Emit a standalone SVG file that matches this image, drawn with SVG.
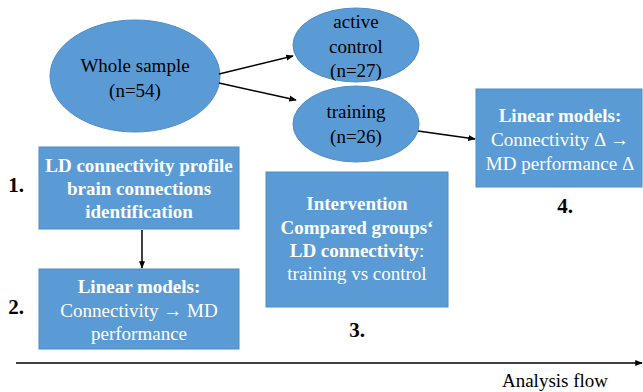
<svg xmlns="http://www.w3.org/2000/svg" width="643" height="392" viewBox="0 0 643 392">
<style>
.n{fill:#5b9bd5;stroke:#4f8ccb;stroke-width:1}
.t{font-family:"Liberation Serif","Times New Roman",serif;font-size:19px;text-anchor:middle}
.k{fill:#000}
.w{fill:#fff}
.b{font-weight:bold}
.c{stroke:#000;stroke-width:1.5;fill:none;marker-end:url(#ah)}
.num{font-family:"Liberation Serif","Times New Roman",serif;font-size:21px;font-weight:bold;fill:#000;text-anchor:middle}
</style>
<defs>
<marker id="ah" viewBox="0 0 10 10" refX="9" refY="5" markerWidth="5" markerHeight="5" orient="auto">
<path d="M0,1 L10,5 L0,9 z" fill="#000"/>
</marker>
</defs>
<g id="whole">
<ellipse class="n" cx="135" cy="76" rx="85" ry="56"/>
<text class="t k" x="135" y="72">Whole sample</text>
<text class="t k" x="135" y="97">(n=54)</text>
</g>
<g id="active">
<ellipse class="n" cx="356" cy="45" rx="63" ry="37"/>
<text class="t k" x="356" y="28">active</text>
<text class="t k" x="356" y="53">control</text>
<text class="t k" x="356" y="77">(n=27)</text>
</g>
<g id="training">
<ellipse class="n" cx="356" cy="124" rx="63" ry="38"/>
<text class="t k" x="356" y="118">training</text>
<text class="t k" x="356" y="143">(n=26)</text>
</g>
<g id="box4">
<rect class="n" x="476" y="89" width="166" height="98"/>
<text class="t w b" x="560" y="122">Linear models:</text>
<text class="t w" x="560" y="146">Connectivity Δ →</text>
<text class="t w" x="560" y="170">MD performance Δ</text>
</g>
<g id="box1">
<rect class="n" x="39" y="147" width="200" height="82"/>
<text class="t w b" x="139" y="172">LD connectivity profile</text>
<text class="t w b" x="139" y="195">brain connections</text>
<text class="t w b" x="139" y="218">identification</text>
</g>
<g id="box2">
<rect class="n" x="39" y="269" width="200" height="80"/>
<text class="t w b" x="139" y="293">Linear models:</text>
<text class="t w" x="139" y="317">Connectivity → MD</text>
<text class="t w" x="139" y="340">performance</text>
</g>
<g id="box3">
<rect class="n" x="266" y="172" width="182" height="135"/>
<text class="t w b" x="357" y="210">Intervention</text>
<text class="t w b" x="357" y="234">Compared groups‘</text>
<text class="t w" x="357" y="257"><tspan class="b">LD connectivity</tspan>:</text>
<text class="t w" x="357" y="280">training vs control</text>
</g>
<g id="labels">
<text class="num" x="16" y="192">1.</text>
<text class="num" x="16" y="314">2.</text>
<text class="num" x="357" y="337">3.</text>
<text class="num" x="565" y="213">4.</text>
<text class="t k" x="555" y="387">Analysis flow</text>
</g>
<g id="connectors">
<line class="c" x1="219" y1="74" x2="293" y2="56"/>
<line class="c" x1="219" y1="83" x2="296" y2="100"/>
<line class="c" x1="418" y1="131" x2="475" y2="139"/>
<line class="c" x1="142" y1="230" x2="142" y2="268"/>
<line class="c" x1="16" y1="363" x2="642" y2="363"/>
</g>
</svg>
